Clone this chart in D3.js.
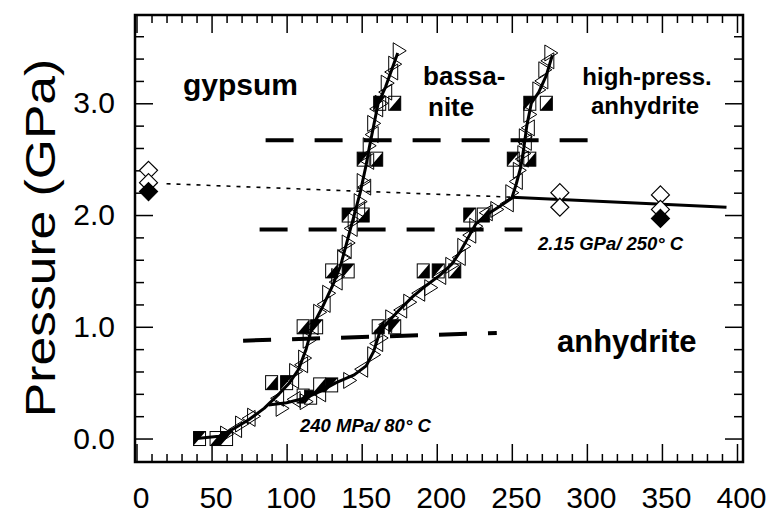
<!DOCTYPE html>
<html lang="en">
<head>
<meta charset="utf-8">
<title>Gypsum dehydration P-T diagram</title>
<style>
  body {margin: 0; background: #fff;}
  svg  {display: block; font-family: "Liberation Sans", Arial, Helvetica, sans-serif;}
  .curve  {fill: none; stroke: #000; stroke-width: 3; stroke-linejoin: round;}
  .dashed {fill: none; stroke: #000; stroke-width: 4; stroke-dasharray: 28 21;}
  .dotted {fill: none; stroke: #000; stroke-width: 1.6; stroke-dasharray: 4 6;}
  .tri    {fill: none; stroke: #000; stroke-width: 1;}
  .sq     {fill: #fff; stroke: #000; stroke-width: 1;}
  .dia    {stroke: #000; stroke-width: 1.2;}
  .tick line {stroke: #000; stroke-width: 1.5;}
</style>
</head>
<body>

<svg id="chart" width="777" height="514"></svg>

<script src="https://d3js.org/d3.v7.min.js"></script>
<script>
// axis labels
const xTicks = [0, 50, 100, 150, 200, 250, 300, 350, 400];
const yTicks = [0, 1, 2, 3];

// gypsum -> bassanite boundary (temperature °C, pressure GPa)
const lineAT = [40, 55, 65, 75, 85, 95, 102, 108, 113, 117, 124, 131, 136, 141, 145, 149, 153, 155, 158, 161, 166, 170, 174];
const lineAP = [0, 0.02, 0.09, 0.17, 0.27, 0.4, 0.5, 0.62, 0.8, 1.0, 1.18, 1.38, 1.55, 1.8, 2.0, 2.2, 2.45, 2.6, 2.8, 3.0, 3.15, 3.3, 3.45];

// bassanite -> anhydrite boundary
const lineBT = [88, 100, 112, 122, 133, 145, 153, 158, 162, 168, 175, 184, 193, 202, 210, 216, 221, 226, 233, 241, 250, 253, 256, 258, 260, 263, 268, 273, 277];
const lineBP = [0.3, 0.32, 0.36, 0.42, 0.5, 0.57, 0.65, 0.78, 0.95, 1.05, 1.15, 1.27, 1.37, 1.46, 1.56, 1.68, 1.8, 1.92, 2.0, 2.07, 2.15, 2.28, 2.43, 2.6, 2.8, 3.0, 3.1, 3.25, 3.43];

// heating runs (right-pointing triangles)
const heatT = [60, 70, 78, 97, 106, 112, 115, 122, 128, 134, 138, 141, 145, 149, 151, 155, 158, 163, 167, 172, 175,
               113, 142, 158, 163, 170, 182, 196, 210, 218, 226, 240, 250, 255, 258, 259, 262, 268, 272, 276];
const heatP = [0.04, 0.13, 0.2, 0.27, 0.6, 0.72, 0.88, 1.13, 1.3, 1.45, 1.62, 1.75, 1.95, 2.12, 2.3, 2.62, 2.82, 3.0, 3.18, 3.35, 3.47,
               0.33, 0.52, 0.75, 0.9, 1.08, 1.22, 1.35, 1.55, 1.72, 1.9, 2.05, 2.2, 2.4, 2.55, 2.7, 2.9, 3.12, 3.3, 3.45];

// cooling runs (left-pointing triangles)
const coolT = [66, 75, 94, 104, 110, 117, 125, 133, 139, 143, 148, 152, 154, 157, 160, 166, 170,
               105, 122, 150, 160, 166, 176, 188, 202, 215, 222, 233, 247, 253, 257, 259, 261, 270, 274];
const coolP = [0.08, 0.18, 0.36, 0.52, 0.66, 1.0, 1.2, 1.4, 1.68, 1.88, 2.05, 2.25, 2.48, 2.72, 2.95, 3.1, 3.28,
               0.35, 0.4, 0.62, 0.85, 1.02, 1.15, 1.3, 1.45, 1.62, 1.82, 2.02, 2.1, 2.3, 2.5, 2.65, 2.78, 3.2, 3.38];

// isobaric runs (half-filled squares)
const sqT = [42, 53, 60, 90, 100, 111, 116, 122, 130, 111, 120, 161, 172, 130, 141, 191, 201, 212, 141, 151, 222, 231, 151, 160, 251, 262, 162, 172, 262, 273];
const sqP = [0, 0, 0, 0.5, 0.5, 0.38, 0.37, 0.48, 0.48, 1.0, 1.0, 1.0, 1.0, 1.5, 1.5, 1.5, 1.5, 1.5, 2.0, 2.0, 2.0, 2.0, 2.5, 2.5, 2.5, 2.5, 3.0, 3.0, 3.0, 3.0];

// high-pressure anhydrite runs (diamonds)
const diaOpenT = [8, 8, 282, 282, 349, 349];
const diaOpenP = [2.40, 2.29, 2.2, 2.07, 2.18, 2.05];
const diaFillT = [8, 349];
const diaFillP = [2.21, 1.97];

// dotted metastable extension and the anhydrite / high-pressure anhydrite boundary
const dotT = [20, 250];
const dotP = [2.28, 2.16];
const solidT = [250, 393];
const solidP = [2.16, 2.07];

// dashed isobars
const dashT = [[86, 304], [82, 257], [71, 240]];
const dashP = [[2.67, 2.67], [1.87, 1.87], [0.876, 0.945]];

const svg = d3.select("#chart");
const x = d3.scaleLinear().domain([-1, 404]).range([135, 743]);
const y = d3.scaleLinear().domain([-0.21, 3.79]).range([462, 15]);
const [x0, x1] = x.range();
const [y0, y1] = y.range();

// ---- ticks (all inward) ----
const xMinor = d3.range(0, 401, 10).filter(d => d % 50 !== 0);
const yMinor = d3.range(0, 3.61, 0.2).filter(d => Math.abs(d - Math.round(d)) > 0.01);

function ticks(axis, tf) {
  const g = svg.append("g").attr("transform", tf).call(axis);
  g.select(".domain").remove();
  return g;
}
ticks(d3.axisBottom(x).tickValues(xMinor).tickSize(-8).tickFormat(""), `translate(0,${y0})`);
ticks(d3.axisBottom(x).tickValues(xTicks).tickSize(-18).tickFormat(""), `translate(0,${y0})`);
ticks(d3.axisTop(x).tickValues(xMinor).tickSize(-8).tickFormat(""), `translate(0,${y1})`);
ticks(d3.axisTop(x).tickValues(xTicks).tickSize(-18).tickFormat(""), `translate(0,${y1})`);
ticks(d3.axisLeft(y).tickValues(yMinor).tickSize(-9).tickFormat(""), `translate(${x0},0)`);
ticks(d3.axisLeft(y).tickValues(yTicks).tickSize(-18).tickFormat(""), `translate(${x0},0)`);
ticks(d3.axisRight(y).tickValues(yMinor).tickSize(-9).tickFormat(""), `translate(${x1},0)`);
ticks(d3.axisRight(y).tickValues(yTicks).tickSize(-18).tickFormat(""), `translate(${x1},0)`);

// tick labels
const xl = ticks(d3.axisBottom(x).tickValues(xTicks).tickSize(0).tickPadding(25).tickFormat(d3.format("d")),
                 `translate(4,${y0})`);
const yl = ticks(d3.axisLeft(y).tickValues(yTicks).tickSize(0).tickPadding(20).tickFormat(d3.format(".1f")),
                 `translate(${x0},0)`);
[xl, yl].forEach(g => {
  g.attr("font-family", null);
  g.selectAll("text").attr("font-size", 30).attr("fill", "#000");
});

// axis title, stretched along its length like the scan
svg.append("text")
  .attr("transform", "translate(40,238) scale(1,1.2) rotate(-90)")
  .attr("text-anchor", "middle").attr("dy", "0.36em")
  .attr("font-size", 43)
  .text("Pressure (GPa)");

// ---- lines ----
const line = d3.line().x(d => x(d[0])).y(d => y(d[1]));
const pts = (T, P) => T.map((t, i) => [t, P[i]]);

dashT.forEach((T, i) => {
  svg.append("path").attr("class", "dashed").attr("d", line(pts(T, dashP[i])));
});
svg.append("path").attr("class", "dotted").attr("d", line(pts(dotT, dotP)));

// squares: one half black
const sqs = svg.append("g").selectAll("g").data(pts(sqT, sqP)).join("g")
  .attr("transform", d => `translate(${x(d[0])},${y(d[1])})`);
sqs.append("rect").attr("class", "sq").attr("x", -6).attr("y", -7).attr("width", 12).attr("height", 14);
sqs.append("path").attr("fill", "#000")
  .attr("d", (d, i) => i % 2 === 0 ? "M-6,-7 L6,-7 L-6,7 Z" : "M6,-7 L6,7 L-6,7 Z");

// triangles
svg.append("g").selectAll("path").data(pts(heatT, heatP)).join("path")
  .attr("class", "tri")
  .attr("transform", d => `translate(${x(d[0])},${y(d[1])})`)
  .attr("d", "M-6,-8 L7,0 L-6,8 Z");
svg.append("g").selectAll("path").data(pts(coolT, coolP)).join("path")
  .attr("class", "tri")
  .attr("transform", d => `translate(${x(d[0])},${y(d[1])})`)
  .attr("d", "M6,-8 L-7,0 L6,8 Z");

svg.append("path").attr("class", "curve").attr("d", line(pts(lineAT, lineAP)));
svg.append("path").attr("class", "curve").attr("d", line(pts(lineBT, lineBP)));
svg.append("path").attr("class", "curve").attr("stroke-width", 4.5).attr("d", line(pts(solidT, solidP)));

// diamonds
const diamond = "M0,-9 L9,0 L0,9 L-9,0 Z";
svg.append("g").selectAll("path").data(pts(diaOpenT, diaOpenP)).join("path")
  .attr("class", "dia").attr("fill", "#fff").attr("d", diamond)
  .attr("transform", d => `translate(${x(d[0])},${y(d[1])})`);
svg.append("g").selectAll("path").data(pts(diaFillT, diaFillP)).join("path")
  .attr("class", "dia").attr("fill", "#000").attr("d", diamond)
  .attr("transform", d => `translate(${x(d[0])},${y(d[1])})`);

// frame
svg.append("rect")
  .attr("x", x0).attr("y", y1).attr("width", x1 - x0).attr("height", y0 - y1)
  .attr("fill", "none").attr("stroke", "#000").attr("stroke-width", 2.5);

// ---- region labels ----
function label(txt, px, py, size, opts = {}) {
  svg.append("text")
    .attr("x", px).attr("y", py)
    .attr("font-size", size)
    .attr("font-weight", "bold")
    .attr("font-style", opts.italic ? "italic" : null)
    .attr("text-anchor", opts.anchor || "start")
    .text(txt);
}
label("gypsum", 183, 95, 30);
label("bassa-", 423, 85, 26);
label("nite", 428, 116, 26);
label("high-press.", 647, 85, 24, {anchor: "middle"});
label("anhydrite", 645, 114, 24, {anchor: "middle"});
label("anhydrite", 557, 352, 31);
label("2.15 GPa/ 250° C", 538, 250, 18.5, {italic: true});
label("240 MPa/ 80° C", 300, 432, 18.5, {italic: true});
</script>

</body>
</html>
